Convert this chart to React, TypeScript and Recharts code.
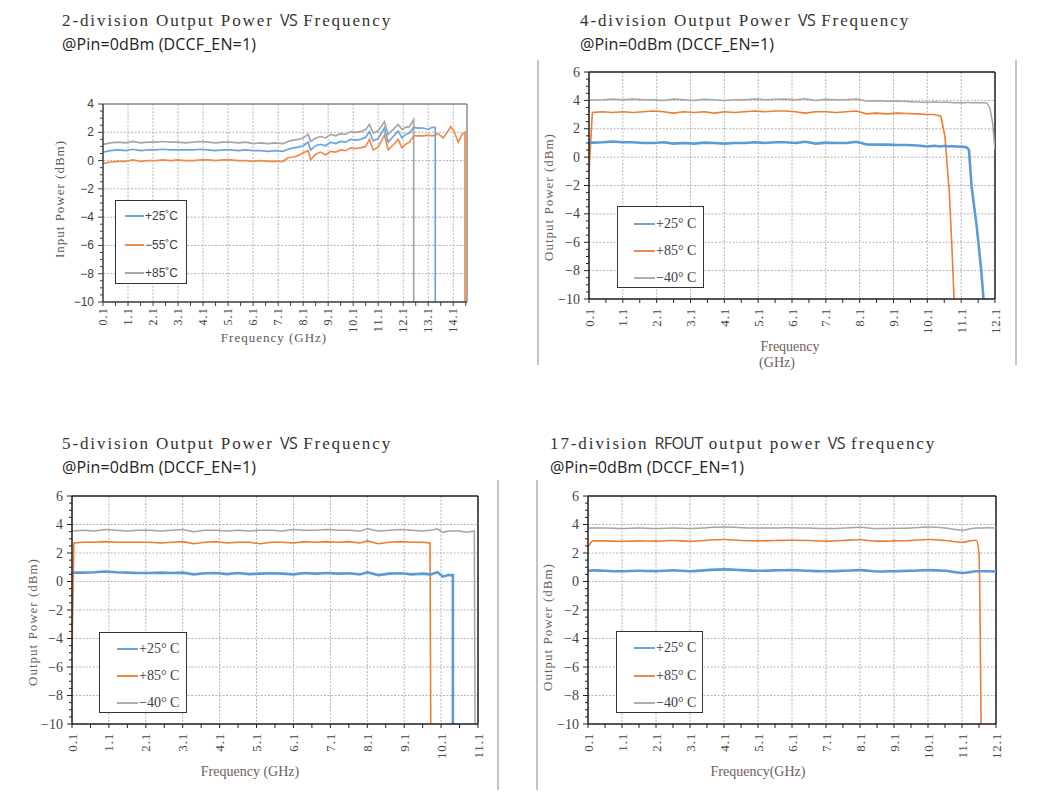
import React from "react";
import {
  CartesianGrid,
  Legend,
  Line,
  LineChart,
  ReferenceLine,
  XAxis,
  YAxis,
} from "recharts";

// ---------- 2-division (top left), x = GHz, y = dBm
const FREQ_2DIV = [
  0.1, 0.4, 0.7, 1.0, 1.3, 1.6, 1.9, 2.2, 2.5, 2.8, 3.1, 3.4, 3.7, 4.0, 4.3, 4.6, 4.9, 5.2, 5.5, 5.8, 6.1, 6.4, 6.7, 7.0, 7.3,
  7.5, 7.7, 7.9, 8.1, 8.3, 8.4, 8.6, 8.8, 9.0, 9.2, 9.4, 9.6, 9.8, 10.0, 10.2, 10.4, 10.6, 10.75, 10.9, 11.1, 11.35, 11.5, 11.7, 11.9, 12.05, 12.2, 12.35, 12.52, 12.52,
  12.7, 12.9, 13.1, 13.25, 13.38, 13.38,
  13.5, 13.7, 13.9, 14.0, 14.15, 14.3, 14.45, 14.57, 14.57,
];
const P25_2DIV = [
  0.6, 0.7, 0.75, 0.7, 0.8, 0.7, 0.75, 0.75, 0.8, 0.75, 0.75, 0.75, 0.75, 0.8, 0.75, 0.7, 0.75, 0.75, 0.7, 0.75, 0.7, 0.7, 0.65, 0.7, 0.65,
  0.8, 0.9, 0.95, 1.05, 1.3, 0.75, 1.05, 1.15, 1.05, 1.3, 1.2, 1.35, 1.3, 1.5, 1.45, 1.5, 1.65, 2.05, 1.4, 1.55, 2.3, 1.3, 1.7, 2.1, 1.6, 1.85, 1.95, 2.35, 2.35,
  2.3, 2.3, 2.2, 2.35, 2.35, -10,
  null, null, null, null, null, null, null, null, null,
];
const M55_2DIV = [
  -0.2, -0.1, -0.05, -0.05, 0.05, -0.05, 0, 0, 0.05, 0, 0.05, 0, 0, 0.05, 0.05, 0, 0.05, 0.05, 0, 0, -0.05, 0, -0.05, -0.05, -0.05,
  0.2, 0.25, 0.35, 0.55, 0.7, 0.05, 0.45, 0.6, 0.4, 0.65, 0.6, 0.75, 0.7, 0.9, 0.85, 0.9, 1.0, 1.5, 0.75, 0.95, 1.8, 0.75, 1.1, 1.5, 0.9, 1.15, 1.3, 1.75, 1.75,
  1.75, 1.75, 1.8, 1.75, 1.8, 1.8,
  1.9, 1.6, 2.1, 2.4, 2.0, 1.3, 1.85, 2.0, -10,
];
const P85_2DIV = [
  1.15, 1.25, 1.3, 1.25, 1.35, 1.25, 1.3, 1.3, 1.35, 1.3, 1.3, 1.25, 1.3, 1.35, 1.3, 1.25, 1.3, 1.3, 1.25, 1.3, 1.2, 1.25, 1.2, 1.25, 1.2,
  1.35, 1.45, 1.5, 1.6, 1.85, 1.35, 1.6, 1.7, 1.6, 1.85, 1.75, 1.9, 1.85, 2.05, 2.0, 2.05, 2.2, 2.55, 1.95, 2.1, 2.75, 1.85, 2.2, 2.55, 2.2, 2.35, 2.4, 2.9, -10,
  null, null, null, null, null, null,
  null, null, null, null, null, null, null, null, null,
];

// ---------- 4-division (top right)
const FREQ_4DIV = [
  0.1, 0.2, 0.5, 0.8, 1.1, 1.4, 1.7, 2.0, 2.3, 2.6, 2.9, 3.2, 3.5, 3.8, 4.1, 4.4, 4.7, 5.0, 5.3, 5.6, 5.9, 6.2, 6.5, 6.8, 7.1, 7.4, 7.7, 8.0, 8.3, 8.6, 8.9, 9.2, 9.5, 9.8, 10.1,
  10.3, 10.5, 10.62, 10.75, 10.82, 10.89, 11.0, 11.15, 11.26, 11.33, 11.41, 11.56, 11.69, 11.76, 11.86, 11.95, 12.03, 12.1,
];
const P25_4DIV = [
  1.0, 1.02, 1.05, 1.1, 1.05, 1.05, 1.0, 1.0, 1.05, 0.95, 1.0, 0.95, 1.02, 1.0, 0.95, 1.0, 1.0, 1.05, 1.0, 1.05, 1.05, 1.0, 1.08, 0.95, 1.02, 1.0, 1.0, 1.08, 0.9, 0.88, 0.88, 0.85, 0.85, 0.82, 0.75,
  0.8, 0.75, 0.8, 0.75, 0.78, 0.75, 0.75, 0.72, 0.7, 0.5, -2.1, -4.9, -7.9, -10, null, null, null, null,
];
const P85_4DIV = [
  -1.0, 3.15, 3.2, 3.15, 3.2, 3.15, 3.2, 3.25, 3.2, 3.1, 3.2, 3.15, 3.2, 3.1, 3.2, 3.15, 3.2, 3.25, 3.2, 3.25, 3.25, 3.2, 3.1, 3.2, 3.2, 3.15, 3.2, 3.25, 3.05, 3.1, 3.05, 3.1, 3.08, 3.05, 3.0,
  3.0, 2.88, 1.47, -2.5, -6.0, -10, null, null, null, null, null, null, null, null, null, null, null, null,
];
const M40_4DIV = [
  4.0, 4.02, 4.05, 4.1, 4.05, 4.1, 4.05, 4.05, 4.0, 4.1, 4.05, 4.0, 4.08, 4.05, 4.0, 4.05, 4.05, 4.1, 4.05, 4.08, 4.1, 4.05, 4.12, 4.0, 4.08, 4.05, 4.05, 4.1, 3.95, 3.97, 3.93, 3.95, 3.92, 3.88, 3.85,
  3.9, 3.85, 3.88, 3.85, 3.87, 3.82, 3.85, 3.82, 3.85, 3.85, 3.83, 3.85, 3.82, 3.85, 3.8, 3.45, 2.4, 0.5,
];

// ---------- 5-division (bottom left)
const FREQ_5DIV = [
  0.1, 0.15, 0.4, 0.7, 1.0, 1.3, 1.6, 1.9, 2.2, 2.5, 2.8, 3.1, 3.4, 3.7, 4.0, 4.3, 4.6, 4.9, 5.2, 5.5, 5.8, 6.1, 6.4, 6.7, 7.0, 7.3, 7.6, 7.9, 8.1, 8.4,
  8.7, 9.0, 9.3, 9.6, 9.8, 9.82, 10.0, 10.15, 10.3, 10.42, 10.42, 10.6, 10.8, 11.0, 11.02,
];
const P25_5DIV = [
  0.6, 0.62, 0.62, 0.65, 0.7, 0.65, 0.62, 0.6, 0.6, 0.62, 0.6, 0.62, 0.5, 0.58, 0.6, 0.52, 0.6, 0.52, 0.55, 0.58, 0.55, 0.5, 0.6, 0.55, 0.6, 0.55, 0.58, 0.5, 0.65, 0.45,
  0.55, 0.58, 0.5, 0.55, 0.5, 0.5, 0.65, 0.35, 0.45, 0.45, -10, null, null, null, null,
];
const P85_5DIV = [
  -5, 2.7, 2.75, 2.75, 2.8, 2.75, 2.75, 2.75, 2.75, 2.7, 2.75, 2.8, 2.65, 2.75, 2.8, 2.7, 2.75, 2.75, 2.65, 2.75, 2.75, 2.7, 2.8, 2.75, 2.8, 2.75, 2.8, 2.7, 2.85, 2.65,
  2.75, 2.8, 2.75, 2.75, 2.7, -10, null, null, null, null, null, null, null, null, null,
];
const M40_5DIV = [
  3.55, 3.55, 3.6, 3.55, 3.65, 3.6, 3.55, 3.6, 3.6, 3.55, 3.6, 3.65, 3.5, 3.6, 3.6, 3.55, 3.6, 3.55, 3.6, 3.6, 3.55, 3.65, 3.6, 3.6, 3.65, 3.6, 3.6, 3.55, 3.7, 3.55,
  3.6, 3.65, 3.6, 3.55, 3.6, 3.6, 3.7, 3.45, 3.55, 3.55, 3.55, 3.55, 3.45, 3.55, -10,
];

// ---------- 17-division (bottom right)
const FREQ_17DIV = [
  0.1, 0.25, 0.6, 1.1, 1.6, 2.1, 2.6, 3.1, 3.6, 4.1, 4.6, 5.1, 5.6, 6.1, 6.6, 7.1, 7.6, 8.1, 8.6, 9.1, 9.6, 10.1, 10.6, 11.1, 11.4, 11.52, 11.6, 11.66, 11.8, 12.1,
];
const P25_17DIV = [
  0.75, 0.78, 0.75, 0.72, 0.75, 0.73, 0.78, 0.72, 0.8, 0.85, 0.8, 0.75, 0.78, 0.8, 0.75, 0.72, 0.75, 0.8, 0.7, 0.72, 0.75, 0.8, 0.75, 0.6, 0.68, 0.72, 0.72, 0.72, 0.72, 0.7,
];
const P85_17DIV = [
  2.4, 2.85, 2.85, 2.82, 2.85, 2.83, 2.88, 2.82, 2.9, 2.95, 2.88, 2.85, 2.88, 2.9, 2.88, 2.83, 2.88, 2.93, 2.83, 2.85, 2.88, 2.95, 2.88, 2.75, 2.88, 2.9, 1.97, -10, null, null,
];
const M40_17DIV = [
  3.75, 3.75, 3.75, 3.72, 3.75, 3.72, 3.75, 3.72, 3.78, 3.83, 3.78, 3.75, 3.75, 3.78, 3.75, 3.72, 3.75, 3.8, 3.72, 3.73, 3.75, 3.82, 3.75, 3.6, 3.72, 3.75, 3.75, 3.75, 3.77, 3.75,
];

// ---------- ticks
const X_LABELS_14 = [0.1, 1.1, 2.1, 3.1, 4.1, 5.1, 6.1, 7.1, 8.1, 9.1, 10.1, 11.1, 12.1, 13.1, 14.1];
const X_LABELS_12 = [0.1, 1.1, 2.1, 3.1, 4.1, 5.1, 6.1, 7.1, 8.1, 9.1, 10.1, 11.1, 12.1];
const X_LABELS_11 = [0.1, 1.1, 2.1, 3.1, 4.1, 5.1, 6.1, 7.1, 8.1, 9.1, 10.1, 11.1];
const Y_LABELS_4 = [-10, -8, -6, -4, -2, 0, 2, 4];
const Y_LABELS_6 = [-10, -8, -6, -4, -2, 0, 2, 4, 6];

const BLUE = "#5b9bd5";
const ORANGE = "#ed7d31";
const GREY = "#a5a5a5";

const SERIF = '"Liberation Serif", "DejaVu Serif", serif';
const SANS = '"Liberation Sans", Arial, sans-serif';
const TITLE_SANS = '"Open Sans", "Noto Sans", sans-serif';

type Row = Record<string, number | null>;

const makeRows = (freq: number[], cols: Record<string, (number | null)[]>): Row[] =>
  freq.map((f, i) => {
    const row: Row = { f };
    Object.keys(cols).forEach((k) => {
      row[k] = cols[k][i];
    });
    return row;
  });

type Series = { key: string; name: string; color: string; width: number };

type LegendCfg = {
  x: number;
  y: number;
  w: number;
  h: number;
  rowTop: number;
  rowGap: number;
  lineX: number;
  lineW: number;
  lineWidth: number;
  family: string;
  size: number;
};

type PanelProps = {
  plot: { x: number; y: number; w: number; h: number };
  rows: Row[];
  series: Series[];
  legendOrder: string[];
  xMax: number;
  xLabels: number[];
  yMax: number;
  yLabels: number[];
  frameColor: string;
  axisColor: string;
  yFont: { family: string; size: number };
  xFont: { family: string; size: number; spacing: number };
  tickColor: string;
  xGap: number;
  curve: "linear" | "monotone";
  legend: LegendCfg;
};

const ML = 60;
const MT = 10;
const MR = 10;
const MB = 50;

const fmtY = (v: number) => (v < 0 ? "\u2212" + Math.abs(v) : String(v));

function Panel(p: PanelProps) {
  const left = p.plot.x - ML;
  const top = p.plot.y - MT;
  const xMajors = new Set(p.xLabels);
  const yMajors = new Set(p.yLabels);
  const xTicks = [
    ...p.xLabels,
    ...p.xLabels.map((v) => +(v + 0.5).toFixed(2)).filter((v) => v <= p.xMax + 1e-6),
  ].sort((a, b) => a - b);
  const yTicks = [
    ...p.yLabels,
    ...p.yLabels.flatMap((v) => [v + 0.5, v + 1, v + 1.5]).filter((v) => v < p.yMax),
  ].sort((a, b) => a - b);

  const xTick = (props: any) => {
    const { x, y, payload } = props;
    const v = payload.value as number;
    const ty = y + p.xGap;
    return (
      <g>
        <line x1={x} x2={x} y1={y} y2={y + 4} stroke={p.axisColor} />
        {xMajors.has(v) && (
          <text
            x={x}
            y={ty}
            transform={`rotate(-90 ${x} ${ty})`}
            textAnchor="end"
            dominantBaseline="central"
            fontFamily={p.xFont.family}
            fontSize={p.xFont.size}
            letterSpacing={p.xFont.spacing}
            fill={p.tickColor}
          >
            {v.toFixed(1)}
          </text>
        )}
      </g>
    );
  };

  const yTick = (props: any) => {
    const { x, y, payload } = props;
    const v = payload.value as number;
    const major = yMajors.has(v);
    return (
      <g>
        <line x1={x - (major ? 5 : 3)} x2={x} y1={y} y2={y} stroke={p.axisColor} />
        {major && (
          <text
            x={x - 9}
            y={y}
            textAnchor="end"
            dominantBaseline="central"
            fontFamily={p.yFont.family}
            fontSize={p.yFont.size}
            fill={p.tickColor}
          >
            {fmtY(v)}
          </text>
        )}
      </g>
    );
  };

  const lg = p.legend;
  const legendItems = p.legendOrder.map((k) => p.series.find((s) => s.key === k)!);

  const legendBox = () => (
    <div
      style={{
        width: lg.w,
        height: lg.h,
        border: "1.5px solid #333",
        background: "#fff",
        boxSizing: "border-box",
        position: "relative",
      }}
    >
      {legendItems.map((s, i) => (
        <div
          key={s.key}
          style={{
            position: "absolute",
            left: lg.lineX,
            top: lg.rowTop + i * lg.rowGap - 10,
            height: 20,
            display: "flex",
            alignItems: "center",
            whiteSpace: "nowrap",
            fontFamily: lg.family,
            fontSize: lg.size,
            color: "#404040",
          }}
        >
          <svg width={lg.lineW} height={6} style={{ display: "block", marginRight: 1 }}>
            <line x1={0} x2={lg.lineW} y1={3} y2={3} stroke={s.color} strokeWidth={lg.lineWidth} />
          </svg>
          <span>{s.name}</span>
        </div>
      ))}
    </div>
  );

  return (
    <div style={{ position: "absolute", left, top }}>
      <LineChart
        width={p.plot.w + ML + MR}
        height={p.plot.h + MT + MB}
        data={p.rows}
        margin={{ top: MT, right: MR, bottom: 0, left: 0 }}
      >
        <CartesianGrid
          stroke="#b3b3b3"
          strokeDasharray="2 1.5"
          horizontalValues={p.yLabels}
          verticalValues={p.xLabels}
        />
        <XAxis
          type="number"
          dataKey="f"
          domain={[0.1, p.xMax]}
          ticks={xTicks}
          interval={0}
          tick={xTick}
          tickLine={false}
          tickSize={0}
          tickMargin={0}
          height={MB}
          axisLine={{ stroke: p.axisColor, strokeWidth: 1.5 }}
          allowDataOverflow
        />
        <YAxis
          type="number"
          domain={[-10, p.yMax]}
          ticks={yTicks}
          interval={0}
          tick={yTick}
          tickLine={false}
          tickSize={0}
          tickMargin={0}
          width={ML}
          axisLine={{ stroke: p.axisColor, strokeWidth: 1.5 }}
          allowDataOverflow
        />
        <ReferenceLine y={p.yMax} stroke={p.frameColor} strokeWidth={1.5} />
        <ReferenceLine x={p.xMax} stroke={p.frameColor} strokeWidth={1.5} />
        {p.series.map((s) => (
          <Line
            key={s.key}
            dataKey={s.key}
            name={s.name}
            type={p.curve}
            stroke={s.color}
            strokeWidth={s.width}
            dot={false}
            activeDot={false}
            connectNulls={false}
            isAnimationActive={false}
          />
        ))}
        <Legend
          layout="vertical"
          align="center"
          verticalAlign="middle"
          wrapperStyle={{ left: lg.x - left, top: lg.y - top, width: lg.w, height: lg.h }}
          content={legendBox}
        />
      </LineChart>
    </div>
  );
}

const Title = ({ x, y, parts }: { x: number; y: number; parts: { t: string; sans?: boolean }[] }) => (
  <div style={{ position: "absolute", left: x, top: y, whiteSpace: "pre", lineHeight: "20px", color: "#333" }}>
    {parts.map((pt, i) =>
      pt.sans ? (
        <span key={i} style={{ fontFamily: TITLE_SANS, fontSize: 16, letterSpacing: -0.6 }}>
          {pt.t}
        </span>
      ) : (
        <span key={i} style={{ fontFamily: SERIF, fontSize: 17, letterSpacing: 1.9 }}>
          {pt.t}
        </span>
      )
    )}
  </div>
);

const Sub = ({ x, y }: { x: number; y: number }) => (
  <div
    style={{
      position: "absolute",
      left: x,
      top: y,
      whiteSpace: "pre",
      lineHeight: "20px",
      fontFamily: TITLE_SANS,
      fontSize: 16,
      letterSpacing: 0.15,
      color: "#222",
    }}
  >
    @Pin=0dBm (DCCF_EN=1)
  </div>
);

const AxisTitle = ({
  cx,
  cy,
  text,
  vertical,
  size,
  spacing,
  color,
}: {
  cx: number;
  cy: number;
  text: string;
  vertical?: boolean;
  size: number;
  spacing: number;
  color: string;
}) => (
  <div
    style={{
      position: "absolute",
      left: cx,
      top: cy,
      transform: `translate(-50%, -50%)${vertical ? " rotate(-90deg)" : ""}`,
      whiteSpace: "pre",
      fontFamily: SERIF,
      fontSize: size,
      letterSpacing: spacing,
      color,
      lineHeight: "16px",
    }}
  >
    {text}
  </div>
);

const VLine = ({ x, y1, y2 }: { x: number; y1: number; y2: number }) => (
  <div style={{ position: "absolute", left: x, top: y1, width: 1.5, height: y2 - y1, background: "#c4c4c4" }} />
);

const TEMP_SERIES: Series[] = [
  { key: "m40", name: "\u221240\u00b0 C", color: GREY, width: 1.5 },
  { key: "p85", name: "+85\u00b0 C", color: ORANGE, width: 1.6 },
  { key: "p25", name: "+25\u00b0 C", color: BLUE, width: 2.6 },
];

const SERIES_2DIV: Series[] = [
  { key: "p85", name: "+85\u02daC", color: "#a6a6a6", width: 1.7 },
  { key: "m55", name: "\u221255\u02daC", color: "#f08b4c", width: 1.7 },
  { key: "p25", name: "+25\u02daC", color: "#6aa6dc", width: 1.7 },
];

const LEGEND_SERIF = { family: SERIF, size: 14, rowGap: 27, lineW: 21, lineWidth: 1.8, w: 87, h: 82 };
const BROWN = "#6e6058";

export default function App() {
  const rows2 = makeRows(FREQ_2DIV, { p25: P25_2DIV, m55: M55_2DIV, p85: P85_2DIV });
  const rows4 = makeRows(FREQ_4DIV, { p25: P25_4DIV, p85: P85_4DIV, m40: M40_4DIV });
  const rows5 = makeRows(FREQ_5DIV, { p25: P25_5DIV, p85: P85_5DIV, m40: M40_5DIV });
  const rows17 = makeRows(FREQ_17DIV, { p25: P25_17DIV, p85: P85_17DIV, m40: M40_17DIV });

  const serifTicks = {
    yFont: { family: SERIF, size: 14 },
    xFont: { family: SERIF, size: 13, spacing: 0.8 },
    tickColor: "#4a4440",
    xGap: 9,
    frameColor: "#222",
    axisColor: "#222",
  };

  return (
    <div
      style={{
        position: "absolute",
        left: 0,
        top: 0,
        width: 1059,
        height: 810,
        background: "#fff",
        overflow: "hidden",
      }}
    >
      <VLine x={537} y1={60} y2={365} />
      <VLine x={1015} y1={60} y2={365} />
      <VLine x={497} y1={480} y2={790} />
      <VLine x={536} y1={480} y2={790} />

      <Title x={62} y={10} parts={[{ t: "2-division Output Power " }, { t: "VS", sans: true }, { t: " Frequency" }]} />
      <Sub x={62} y={34} />
      <Title x={580} y={10} parts={[{ t: "4-division Output Power " }, { t: "VS", sans: true }, { t: " Frequency" }]} />
      <Sub x={580} y={34} />
      <Title x={62} y={433} parts={[{ t: "5-division Output Power " }, { t: "VS", sans: true }, { t: " Frequency" }]} />
      <Sub x={62} y={457} />
      <Title
        x={550}
        y={433}
        parts={[
          { t: "17-division " },
          { t: "RFOUT", sans: true },
          { t: " output power " },
          { t: "VS", sans: true },
          { t: " frequency" },
        ]}
      />
      <Sub x={550} y={457} />

      <Panel
        plot={{ x: 103, y: 104, w: 364, h: 198 }}
        rows={rows2}
        series={SERIES_2DIV}
        legendOrder={["p25", "m55", "p85"]}
        xMax={14.65}
        xLabels={X_LABELS_14}
        yMax={4}
        yLabels={Y_LABELS_4}
        frameColor="#8c8c8c"
        axisColor="#404040"
        yFont={{ family: SANS, size: 12 }}
        xFont={{ family: SERIF, size: 12, spacing: 1.2 }}
        tickColor="#404040"
        xGap={5}
        curve="linear"
        legend={{
          x: 115,
          y: 200,
          w: 72,
          h: 84,
          rowTop: 15,
          rowGap: 28.5,
          lineX: 9,
          lineW: 19,
          lineWidth: 2,
          family: SANS,
          size: 12,
        }}
      />
      <AxisTitle cx={274} cy={338} text="Frequency (GHz)" size={13} spacing={1} color="#595959" />
      <AxisTitle cx={60} cy={199} text="Input Power (dBm)" vertical size={13} spacing={1} color="#595959" />

      <Panel
        plot={{ x: 589, y: 72, w: 406, h: 227 }}
        rows={rows4}
        series={TEMP_SERIES}
        legendOrder={["p25", "p85", "m40"]}
        xMax={12.1}
        xLabels={X_LABELS_12}
        yMax={6}
        yLabels={Y_LABELS_6}
        curve="linear"
        {...serifTicks}
        legend={{ ...LEGEND_SERIF, x: 617, y: 206, rowTop: 17, lineX: 16 }}
      />
      <AxisTitle cx={790} cy={347} text="Frequency" size={14} spacing={0} color={BROWN} />
      <AxisTitle cx={777} cy={363} text="(GHz)" size={14} spacing={0} color={BROWN} />
      <AxisTitle cx={549} cy={197} text="Output Power (dBm)" vertical size={13} spacing={1} color={BROWN} />

      <Panel
        plot={{ x: 72, y: 496, w: 406, h: 228 }}
        rows={rows5}
        series={TEMP_SERIES}
        legendOrder={["p25", "p85", "m40"]}
        xMax={11.1}
        xLabels={X_LABELS_11}
        yMax={6}
        yLabels={Y_LABELS_6}
        curve="linear"
        {...serifTicks}
        legend={{ ...LEGEND_SERIF, x: 99, y: 632, h: 81, w: 88, rowTop: 16, lineX: 17 }}
      />
      <AxisTitle cx={250} cy={772} text="Frequency (GHz)" size={14} spacing={0} color={BROWN} />
      <AxisTitle cx={33} cy={622} text="Output Power (dBm)" vertical size={13} spacing={1} color={BROWN} />

      <Panel
        plot={{ x: 588, y: 496, w: 408, h: 228 }}
        rows={rows17}
        series={TEMP_SERIES}
        legendOrder={["p25", "p85", "m40"]}
        xMax={12.1}
        xLabels={X_LABELS_12}
        yMax={6}
        yLabels={Y_LABELS_6}
        curve="monotone"
        {...serifTicks}
        legend={{ ...LEGEND_SERIF, x: 616, y: 631, rowTop: 16, rowGap: 27.5, lineX: 17 }}
      />
      <AxisTitle cx={758} cy={772} text="Frequency(GHz)" size={14} spacing={0} color={BROWN} />
      <AxisTitle cx={548} cy={627} text="Output Power (dBm)" vertical size={13} spacing={1} color={BROWN} />
    </div>
  );
}
